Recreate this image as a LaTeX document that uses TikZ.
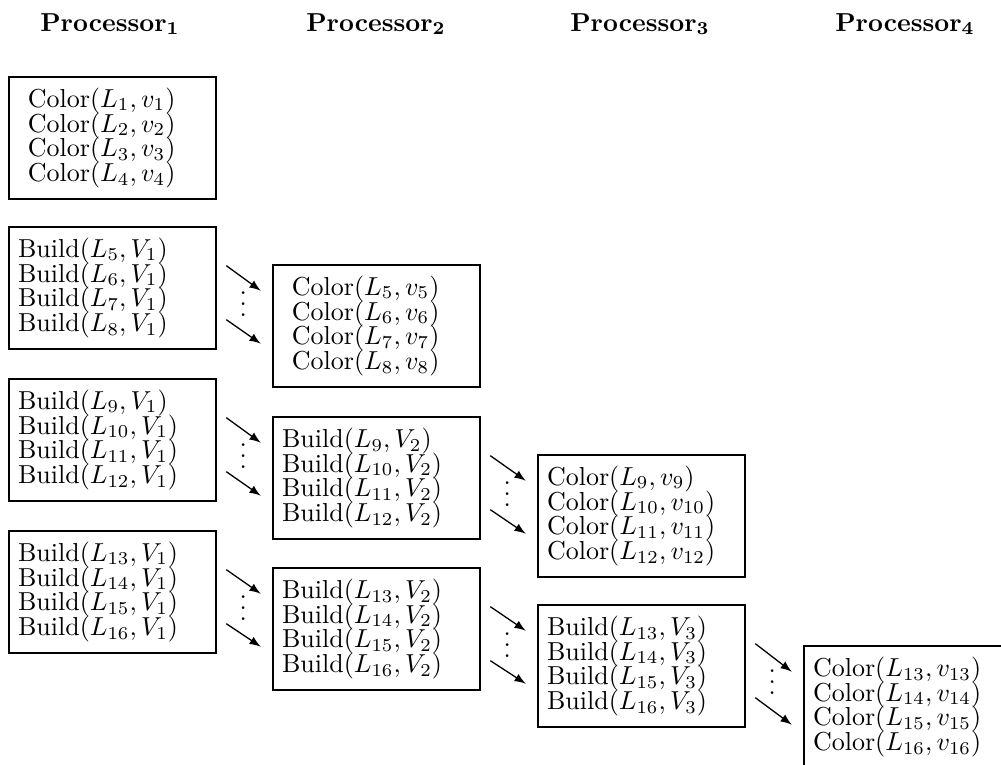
\documentclass[tikz,border=0pt]{standalone}
\usepackage{amsmath,amssymb}
\usetikzlibrary{arrows}

\newcommand{\handdots}{\vbox{\baselineskip4.2pt\lineskiplimit0pt\hbox{.}\hbox{.}\hbox{.}}}

\tikzset{
  procbox/.style={draw, line width=1pt, minimum height=47pt,
    inner xsep=3.5pt, text width=72.7pt, align=left,
    font={\fontsize{10pt}{9.6pt}\selectfont\lineskiplimit=-4pt}},
  colorbox/.style={procbox, inner xsep=7.3pt, text width=65.1pt},
  passarrow/.style={-latex, line width=0.5pt},
  header/.style={anchor=base, font=\bfseries}
}

\begin{document}
\begin{tikzpicture}[x=0.385pt, y=-0.385pt]
    \clip (0,0) rectangle (1001,764);
    % processors
    \node[header] (h1) at (110,31) {Processor$_{\mathbf{1}}$};
    \node[header] (h2) at (376,31) {Processor$_{\mathbf{2}}$};
    \node[header] (h3) at (640,31) {Processor$_{\mathbf{3}}$};
    \node[header] (h4) at (905,31) {Processor$_{\mathbf{4}}$};
    % processor 1
    \node[colorbox] (p1a) at (112.5,138) {Color$(L_1,v_1)$\\Color$(L_2,v_2)$\\Color$(L_3,v_3)$\\Color$(L_4,v_4)$};
    \node[procbox] (p1b) at (112.5,288) {Build$(L_5,V_1)$\\Build$(L_6,V_1)$\\Build$(L_7,V_1)$\\Build$(L_8,V_1)$};
    \node[procbox] (p1c) at (112.5,440) {Build$(L_9,V_1)$\\Build$(L_{10},V_1)$\\Build$(L_{11},V_1)$\\Build$(L_{12},V_1)$};
    \node[procbox] (p1d) at (112.5,592) {Build$(L_{13},V_1)$\\Build$(L_{14},V_1)$\\Build$(L_{15},V_1)$\\Build$(L_{16},V_1)$};
    % processor 2
    \node[colorbox] (p2b) at (376.5,326) {Color$(L_5,v_5)$\\Color$(L_6,v_6)$\\Color$(L_7,v_7)$\\Color$(L_8,v_8)$};
    \node[procbox] (p2c) at (376.5,478) {Build$(L_9,V_2)$\\Build$(L_{10},V_2)$\\Build$(L_{11},V_2)$\\Build$(L_{12},V_2)$};
    \node[procbox] (p2d) at (376.5,629) {Build$(L_{13},V_2)$\\Build$(L_{14},V_2)$\\Build$(L_{15},V_2)$\\Build$(L_{16},V_2)$};
    % processor 3
    \node[procbox] (p3c) at (641.5,516) {Color$(L_9,v_9)$\\Color$(L_{10},v_{10})$\\Color$(L_{11},v_{11})$\\Color$(L_{12},v_{12})$};
    \node[procbox] (p3d) at (641.5,666) {Build$(L_{13},V_3)$\\Build$(L_{14},V_3)$\\Build$(L_{15},V_3)$\\Build$(L_{16},V_3)$};
    % processor 4 (runs off the page)
    \node[procbox] (p4d) at (907.5,707) {Color$(L_{13},v_{13})$\\Color$(L_{14},v_{14})$\\Color$(L_{15},v_{15})$\\Color$(L_{16},v_{16})$};
    % hand-offs
    \foreach \s/\t in {p1b/p2b, p1c/p2c, p1d/p2d, p2c/p3c, p2d/p3d, p3d/p4d} {
      \draw[passarrow] ([shift={(9,40)}]\s.north east) -- ([shift={(-11,27)}]\t.north west);
      \draw[passarrow] ([shift={(9,94)}]\s.north east) -- ([shift={(-11,80)}]\t.north west);
      \node[anchor=base, inner sep=0pt] (\s-dots) at ([shift={(26,91)}]\s.north east) {\handdots};
    }
\end{tikzpicture}
\end{document}
